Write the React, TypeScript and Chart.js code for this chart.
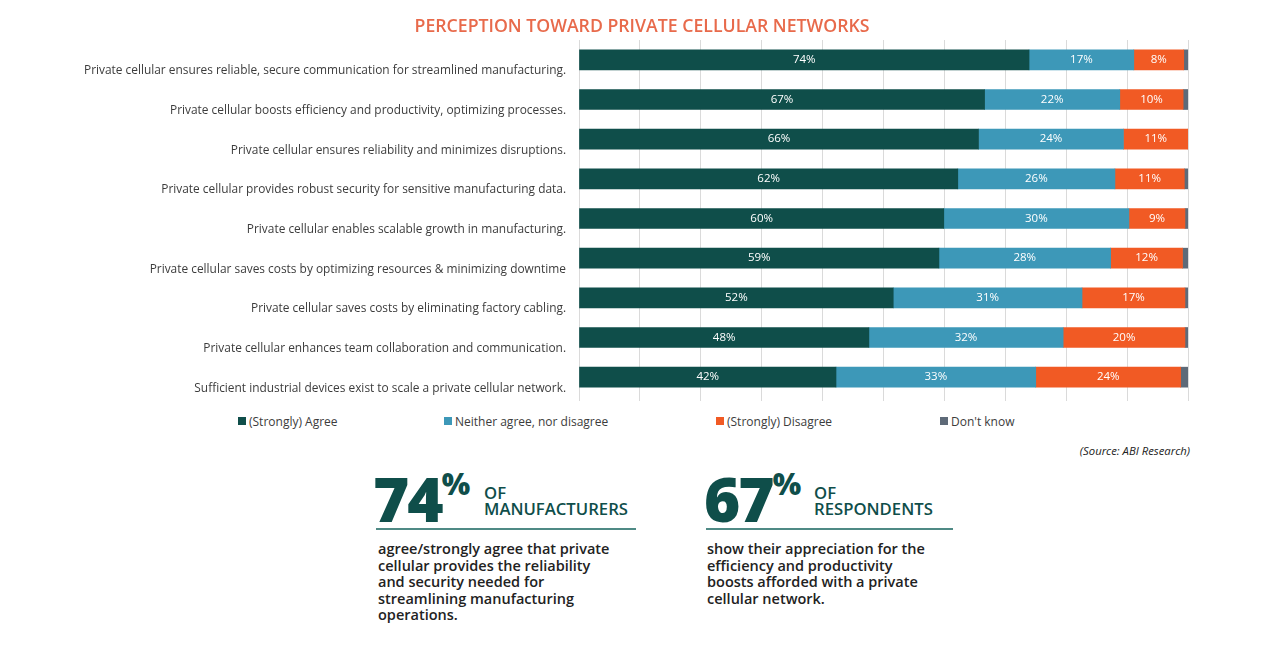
import React, { useEffect, useRef } from "react";
import { Chart, registerables } from "chart.js";

Chart.register(...registerables);

const categories = [
  "Private cellular ensures reliable, secure communication for streamlined manufacturing.",
  "Private cellular boosts efficiency and productivity, optimizing processes.",
  "Private cellular ensures reliability and minimizes disruptions.",
  "Private cellular provides robust security for sensitive manufacturing data.",
  "Private cellular enables scalable growth in manufacturing.",
  "Private cellular saves costs by optimizing resources & minimizing downtime",
  "Private cellular saves costs by eliminating factory cabling.",
  "Private cellular enhances team collaboration and communication.",
  "Sufficient industrial devices exist to scale a private cellular network.",
];

const agree = [73.9, 66.6, 65.6, 62.2, 59.9, 59.1, 51.6, 47.6, 42.2];
const neither = [17.2, 22.2, 23.8, 25.8, 30.4, 28.2, 31.0, 31.9, 32.8];
const disagree = [8.2, 10.4, 10.6, 11.4, 9.2, 11.8, 16.9, 20.0, 23.8];
const dontKnow = [0.7, 0.8, 0.0, 0.6, 0.5, 0.9, 0.5, 0.5, 1.2];

const seriesNames = ["(Strongly) Agree", "Neither agree, nor disagree", "(Strongly) Disagree", "Don't know"];
const seriesColors = ["#0F4E4A", "#3D98B8", "#F15A24", "#5E6A78"];

const TITLE = "PERCEPTION TOWARD PRIVATE CELLULAR NETWORKS";
const FONT = "'Open Sans', 'DejaVu Sans', sans-serif";

const labelPlugin = {
  id: "segLabels",
  afterDatasetsDraw(chart: any) {
    const ctx = chart.ctx;
    ctx.save();
    ctx.font = `11.5px ${FONT}`;
    ctx.fillStyle = "#ffffff";
    ctx.textAlign = "center";
    ctx.textBaseline = "middle";
    chart.data.datasets.forEach((ds: any, di: number) => {
      if (di > 2) return;
      const meta = chart.getDatasetMeta(di);
      meta.data.forEach((el: any, i: number) => {
        const v = ds.data[i];
        if (v < 3) return;
        const cx = (el.x + el.base) / 2;
        ctx.fillText(Math.round(v) + "%", cx, el.y);
      });
    });
    ctx.restore();
  },
};

const titlePlugin = {
  id: "pageTitle",
  afterDraw(chart: any) {
    const ctx = chart.ctx;
    ctx.save();
    ctx.font = `600 17.7px ${FONT}`;
    ctx.fillStyle = "#E86A4B";
    ctx.textAlign = "center";
    ctx.textBaseline = "middle";
    ctx.fillText(TITLE, 642, 26.5);
    ctx.restore();
  },
};

export default function App() {
  const ref = useRef<HTMLCanvasElement>(null);
  useEffect(() => {
    if (!ref.current) return;
    const chart = new Chart(ref.current, {
      type: "bar",
      data: {
        labels: categories,
        datasets: [agree, neither, disagree, dontKnow].map((d, i) => ({
          label: seriesNames[i],
          data: d,
          backgroundColor: seriesColors[i],
          borderWidth: 0,
          barThickness: 20,
        })),
      },
      options: {
        indexAxis: "y",
        animation: false,
        responsive: false,
        maintainAspectRatio: false,
        layout: { padding: { left: 0, right: 92, top: 40, bottom: 0 } },
        plugins: {
          legend: { display: false },
          tooltip: { enabled: false },
          title: { display: false },
        },
        scales: {
          x: {
            stacked: true,
            min: 0,
            max: 100,
            ticks: { display: false, stepSize: 10 },
            grid: { color: "#DADADA", drawTicks: true, tickLength: 4 },
            border: { display: false },
            afterFit: (s: any) => {
              s.height = 4;
            },
          },
          y: {
            stacked: true,
            grid: { display: false, drawTicks: false },
            border: { display: false },
            ticks: {
              color: "#3C3C3C",
              font: { family: FONT, size: 11.9 },
              padding: 13,
              labelOffset: 11,
            },
            afterFit: (s: any) => {
              s.width = 579;
              s.paddingTop = 0;
              s.paddingBottom = 0;
            },
          },
        },
      },
      plugins: [labelPlugin, titlePlugin],
    } as any);
    return () => chart.destroy();
  }, []);

  const legendX = [238, 444, 716, 940];
  const bigNum: React.CSSProperties = {
    position: "absolute",
    fontFamily: FONT,
    fontWeight: 800,
    fontSize: 62,
    lineHeight: "62px",
    color: "#0F4E4A",
    letterSpacing: -2,
  };
  const ofText: React.CSSProperties = {
    position: "absolute",
    fontFamily: FONT,
    fontWeight: 600,
    fontSize: 16.7,
    lineHeight: "16px",
    color: "#0F4E4A",
  };
  const body: React.CSSProperties = {
    position: "absolute",
    fontFamily: FONT,
    fontWeight: 600,
    fontSize: 14.5,
    lineHeight: "16.5px",
    color: "#222222",
    whiteSpace: "nowrap",
  };
  const rule: React.CSSProperties = { position: "absolute", height: 2, background: "#4F8A85" };

  return (
    <div style={{ position: "absolute", left: 0, top: 0, width: 1280, height: 646, background: "#fff", overflow: "hidden" }}>
      <canvas ref={ref} width={1280} height={401} style={{ position: "absolute", left: 0, top: 0, width: 1280, height: 401 }} />
      {seriesNames.map((n, i) => (
        <div key={n} style={{ position: "absolute", left: legendX[i], top: 413, height: 16, display: "flex", alignItems: "center", fontFamily: FONT, fontSize: 12, color: "#3C3C3C", whiteSpace: "nowrap" }}>
          <span style={{ display: "inline-block", width: 8, height: 8, background: seriesColors[i], marginRight: 3 }} />
          {n}
        </div>
      ))}
      <div style={{ position: "absolute", right: 1280 - 1190, top: 443, fontFamily: FONT, fontStyle: "italic", fontSize: 11.3, color: "#222" }}>
        (Source: ABI Research)
      </div>

      <div style={{ ...bigNum, left: 373, top: 467 }}>
        74<span style={{ fontSize: 30, verticalAlign: "top", lineHeight: "34px", letterSpacing: 0 }}>%</span>
      </div>
      <div style={{ ...ofText, left: 484, top: 485 }}>OF<br />MANUFACTURERS</div>
      <div style={{ ...rule, left: 376, top: 528, width: 260 }} />
      <div style={{ ...body, left: 378, top: 541 }}>
        agree/strongly agree that private<br />cellular provides the reliability<br />and security needed for<br />streamlining manufacturing<br />operations.
      </div>

      <div style={{ ...bigNum, left: 704, top: 467 }}>
        67<span style={{ fontSize: 30, verticalAlign: "top", lineHeight: "34px", letterSpacing: 0 }}>%</span>
      </div>
      <div style={{ ...ofText, left: 814, top: 485 }}>OF<br />RESPONDENTS</div>
      <div style={{ ...rule, left: 706, top: 528, width: 247 }} />
      <div style={{ ...body, left: 707, top: 541 }}>
        show their appreciation for the<br />efficiency and productivity<br />boosts afforded with a private<br />cellular network.
      </div>
    </div>
  );
}
